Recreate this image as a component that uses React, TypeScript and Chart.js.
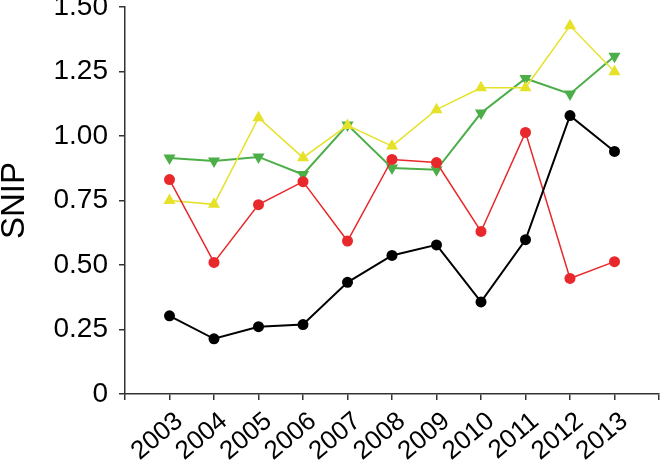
import React, { useEffect, useRef } from "react";
import { Chart, registerables } from "chart.js";

Chart.register(...registerables);

const years = [2003, 2004, 2005, 2006, 2007, 2008, 2009, 2010, 2011, 2012, 2013];
const blackSeries = [0.303, 0.214, 0.261, 0.269, 0.433, 0.537, 0.578, 0.357, 0.598, 1.079, 0.94];
const redSeries = [0.831, 0.51, 0.734, 0.823, 0.593, 0.909, 0.897, 0.63, 1.014, 0.448, 0.513];
const greenSeries = [0.915, 0.903, 0.919, 0.851, 1.043, 0.876, 0.869, 1.089, 1.223, 1.163, 1.309];
const yellowSeries = [0.75, 0.735, 1.071, 0.916, 1.041, 0.961, 1.102, 1.187, 1.187, 1.427, 1.249];
const yTicks = [0, 0.25, 0.5, 0.75, 1.0, 1.25, 1.5];
const yTitle = "SNIP";

const toPoints = (vals: number[]) => vals.map((v, i) => ({ x: years[i], y: v }));

export default function App() {
  const ref = useRef<HTMLCanvasElement | null>(null);
  useEffect(() => {
    document.body.style.margin = "0";
    const ctx = ref.current!;
    const font = "'Liberation Sans', Arial, sans-serif";
    const chart = new Chart(ctx, {
      type: "line",
      data: {
        datasets: [
          {
            data: toPoints(blackSeries),
            borderColor: "#000000",
            backgroundColor: "#000000",
            borderWidth: 2,
            pointStyle: "circle",
            pointRadius: 5.5,
            pointBorderWidth: 0,
            order: 1,
          },
          {
            data: toPoints(redSeries),
            borderColor: "#e8282a",
            backgroundColor: "#e8282a",
            borderWidth: 1.5,
            pointStyle: "circle",
            pointRadius: 5.5,
            pointBorderWidth: 0,
            order: 2,
          },
          {
            data: toPoints(yellowSeries),
            borderColor: "#e6e22a",
            backgroundColor: "#e6e22a",
            borderWidth: 1.5,
            pointStyle: "triangle",
            pointRadius: 7,
            pointBorderWidth: 0,
            order: 3,
          },
          {
            data: toPoints(greenSeries),
            borderColor: "#4cae48",
            backgroundColor: "#4cae48",
            borderWidth: 2,
            pointStyle: "triangle",
            pointRotation: 180,
            pointRadius: 7,
            pointBorderWidth: 0,
            order: 4,
          },
        ],
      },
      options: {
        animation: false,
        responsive: false,
        layout: { padding: { left: 0, right: 5, top: 7, bottom: 0 } },
        plugins: { legend: { display: false }, tooltip: { enabled: false } },
        scales: {
          x: {
            type: "linear",
            min: 2002,
            max: 2014,
            border: { color: "#333", width: 1.5 },
            grid: { drawOnChartArea: false, tickLength: 6, color: "#333", lineWidth: 1.5 },
            afterBuildTicks: (s: any) => {
              const t = [];
              for (let y = 2002; y <= 2014; y++) t.push({ value: y });
              s.ticks = t;
            },
            ticks: {
              autoSkip: false,
              color: "#000",
              font: { family: font, size: 26 },
              maxRotation: 40,
              minRotation: 40,
              labelOffset: 10,
              padding: 6,
              callback: (v: any) => (v >= 2003 && v <= 2013 ? String(v) : ""),
            },
            afterFit: (s: any) => {
              s.height = 66;
              s.paddingLeft = 0;
              s.paddingRight = 0;
            },
          },
          y: {
            min: 0,
            max: 1.5,
            border: { color: "#333", width: 1.5 },
            grid: { drawOnChartArea: false, tickLength: 6, color: "#333", lineWidth: 1.5 },
            afterBuildTicks: (s: any) => {
              s.ticks = yTicks.map((v) => ({ value: v }));
            },
            ticks: {
              autoSkip: false,
              color: "#000",
              font: { family: font, size: 28 },
              padding: 11,
              callback: (v: any) => (v === 0 ? "0" : Number(v).toFixed(2)),
            },
            title: {
              display: true,
              text: yTitle,
              color: "#000",
              font: { family: font, size: 33, lineHeight: 1 },
              padding: { top: -2, bottom: 0 },
            },
            afterFit: (s: any) => {
              s.width = 125;
              s.paddingTop = 0;
              s.paddingBottom = 0;
            },
          },
        },
      },
    });
    return () => chart.destroy();
  }, []);
  return <canvas ref={ref} width={666} height={460} style={{ display: "block" }} />;
}
